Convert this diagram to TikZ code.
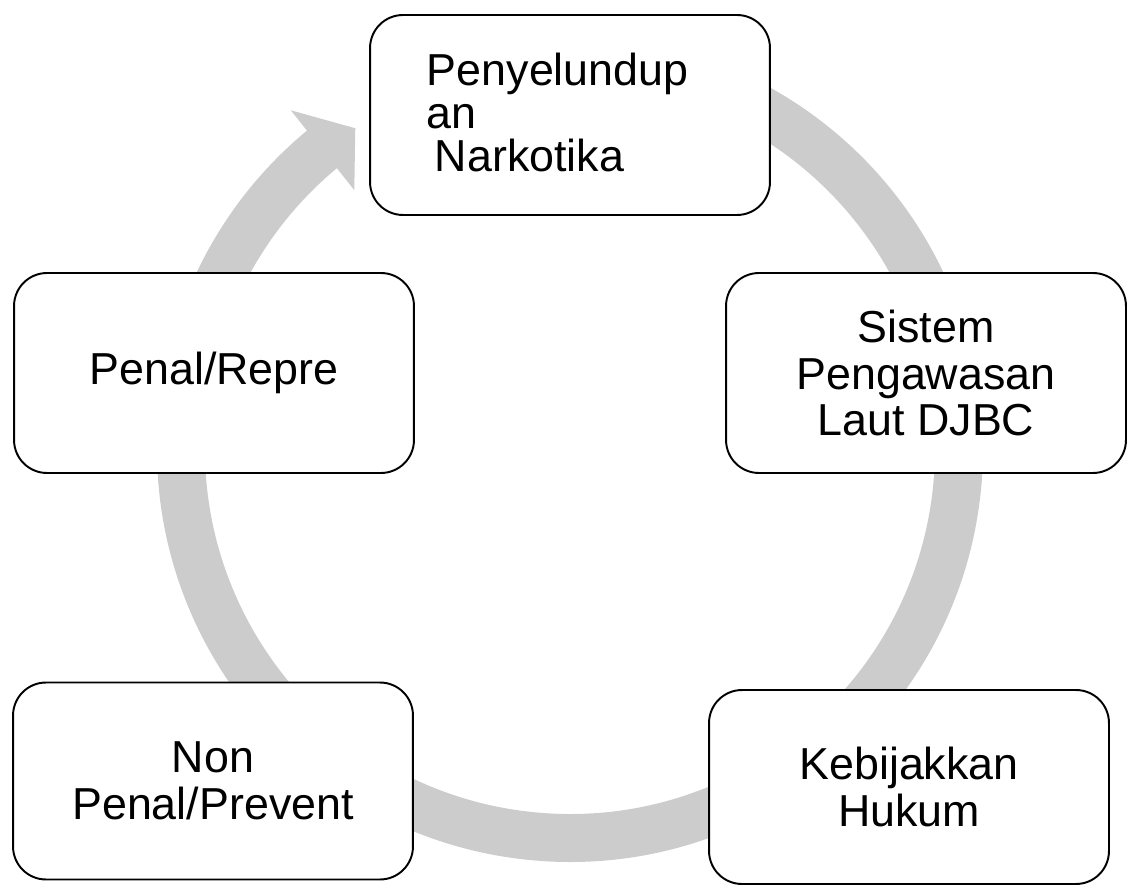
\documentclass[tikz,border=0pt]{standalone}
\usepackage{fontspec}
\setmainfont{Liberation Sans}
\usepackage{tikz}
\usetikzlibrary{positioning}
\definecolor{ringgray}{RGB}{204,204,204}

\begin{document}
\begin{tikzpicture}[x=0.02cm, y=0.02cm, line width=1.1pt,
  box/.style={draw, fill=white, rounded corners=0.66cm, minimum width=8cm, minimum height=4cm, align=center, font=\fontsize{25.5}{26.7}\selectfont},
  boxtext/.style={inner sep=0pt, font=\fontsize{25.5}{24.5}\selectfont}]
\useasboundingbox (0,0) rectangle (1127,887);

\begin{scope}[shift={(570,438)}]
\draw[ringgray, line width=0.96cm] (85:389) arc[start angle=85, end angle=-230.5, radius=389];
\fill[ringgray] (129.5:439) -- (123.8:386) -- (129.8:337) -- cycle;
\end{scope}

\node[box] (smuggle) at (570,772) {};
\node[boxtext, anchor=north west, align=left] (smuggletext) at (426,835) {Penyelundup\\an\\\hspace*{0.16cm}Narkotika};

\node[box] (watch) at (926,514) {Sistem\\Pengawasan\\Laut DJBC};
\node[box, minimum height=3.88cm] (policy) at (909,100) {Kebijakkan\\Hukum};
\node[box, minimum height=3.94cm] (prevent) at (213,106) {Non\\Penal/Prevent};
\node[box] (repress) at (214,514) {Penal/Repre};
\end{tikzpicture}
\end{document}
